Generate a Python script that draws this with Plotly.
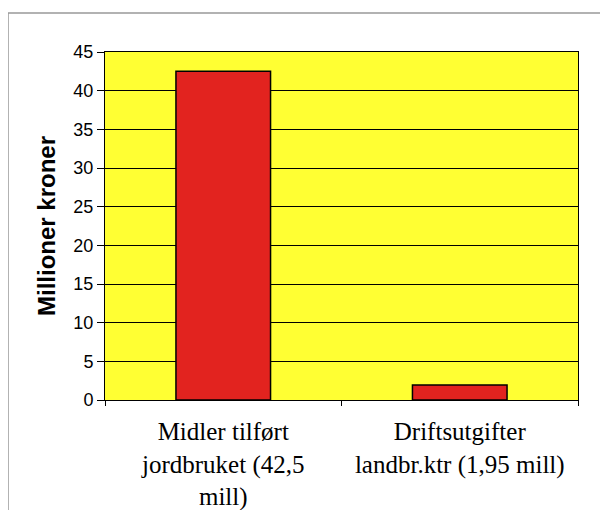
import plotly.graph_objects as go

categories = ["Midler tilført<br>jordbruket (42,5<br>mill)", "Driftsutgifter<br>landbr.ktr (1,95 mill)"]
values = [42.5, 1.95]
y_ticks = [0, 5, 10, 15, 20, 25, 30, 35, 40, 45]

W, H = 600, 502  # page body has an 8px margin
L, T, R, B = 97, 44, 30, 110
SERIF = "Liberation Serif"
SANS = "Liberation Sans"

fig = go.Figure(go.Bar(
    x=categories, y=values, width=0.4,
    marker=dict(color="#E2231F", line=dict(color="black", width=1.5)),
))

pw, ph = W - L - R, H - T - B
fig.update_layout(
    width=W, height=H,
    margin=dict(l=L, r=R, t=T, b=B),
    font=dict(family=SERIF, color="black"),
    paper_bgcolor="white", plot_bgcolor="#FFFF33",
    showlegend=False,
)
fig.update_xaxes(
    type="category", automargin=False,
    tickson="boundaries", ticks="outside", ticklen=5, tickcolor="black",
    showline=True, linecolor="black", linewidth=1, mirror=True,
    tickfont=dict(family=SERIF, size=25, color="black"),
    ticklabelstandoff=9,
    showgrid=False,
)
fig.update_yaxes(
    automargin=False,
    range=[0, 45], tickvals=y_ticks, ticks="outside", ticklen=7, tickcolor="black",
    showline=True, linecolor="black", linewidth=1, mirror=True,
    showgrid=True, gridcolor="black", gridwidth=1, zeroline=False,
    tickfont=dict(family=SANS, size=18, color="black"),
    title=dict(text="<b>Millioner kroner</b>", font=dict(family=SANS, size=24, color="black"), standoff=10),
)
fig.add_shape(type="rect", xref="paper", yref="paper",
              x0=(0 - L) / pw, x1=(602 - L) / pw,
              y0=-(B + 20) / ph, y1=(ph + T - 5) / ph,
              line=dict(color="#999999", width=1.5), layer="below")

fig.write_html("out.html")
